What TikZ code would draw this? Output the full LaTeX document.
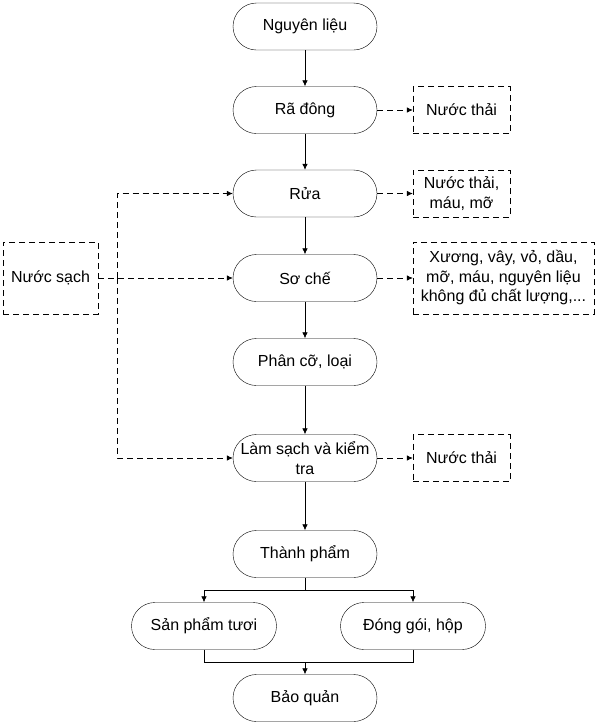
\documentclass[tikz,border=0pt]{standalone}
\usepackage{fontspec}
\setmainfont{Liberation Sans}
\usetikzlibrary{arrows.meta,positioning}
\begin{document}
\begin{tikzpicture}[x=1pt,y=-1pt,
  font=\fontsize{16}{19.5}\selectfont,
  proc/.style={draw,rounded corners=23.5pt,minimum width=144pt,minimum height=47pt,align=center,inner sep=1pt},
  sproc/.style={proc,minimum width=145pt},
  waste/.style={draw,dash pattern=on 6pt off 4pt,minimum width=97pt,minimum height=47pt,align=center,inner sep=1pt},
  arr/.style={-{Latex[length=6pt,width=5.5pt]},line width=0.7pt},
  darr/.style={arr,dash pattern=on 6pt off 4pt}]
\useasboundingbox (0,0) rectangle (595,724);
\node[proc] (n1) at (305,26.5) {Nguyên liệu};
\node[proc] (n2) at (305,110) {Rã đông};
\node[proc] (n3) at (305,193.5) {Rửa};
\node[proc] (n4) at (305,278) {Sơ chế};
\node[proc] (n5) at (305,362) {Phân cỡ, loại};
\node[proc] (n6) at (305,458) {Làm sạch và kiểm\\tra};
\node[proc] (n7) at (305,554) {Thành phẩm};
\node[sproc] (n8) at (204,626) {Sản phẩm tươi};
\node[sproc] (n9) at (413,626) {Đóng gói, hộp};
\node[proc] (n10) at (305,698) {Bảo quản};

\node[waste] (w1) at (461.5,110) {Nước thải};
\node[waste] (w2) at (461.5,193.5) {Nước thải,\\máu, mỡ};
\node[waste,minimum width=181pt,minimum height=72pt] (w3) at (503.5,278) {Xương, vây, vỏ, dầu,\\mỡ, máu, nguyên liệu\\không đủ chất lượng,...};
\node[waste] (w4) at (461.5,458) {Nước thải};
\node[waste,minimum width=95pt,minimum height=72pt] (ns) at (50.5,278) {Nước sạch};

\draw[arr] (n1) -- (n2);
\draw[arr] (n2) -- (n3);
\draw[arr] (n3) -- (n4);
\draw[arr] (n4) -- (n5);
\draw[arr] (n5) -- (n6);
\draw[arr] (n6) -- (n7);

\draw[darr] (n2) -- (w1);
\draw[darr] (n3) -- (w2);
\draw[darr] (n4) -- (w3);
\draw[darr] (n6) -- (w4);

\coordinate (v) at (117,278);
\draw[darr] (ns) -- (n4);
\draw[darr] (v) |- (n3);
\draw[darr] (v) |- (n6);

\coordinate (s) at (305,590);
\draw[line width=0.7pt] (n7.south) -- (s);
\draw[arr] (s) -| (n8.north);
\draw[arr] (s) -| (n9.north);
\coordinate (j) at (305,662);
\draw[line width=0.7pt] (n8.south) |- (j);
\draw[line width=0.7pt] (n9.south) |- (j);
\draw[arr] (j) -- (n10);
\end{tikzpicture}
\end{document}
